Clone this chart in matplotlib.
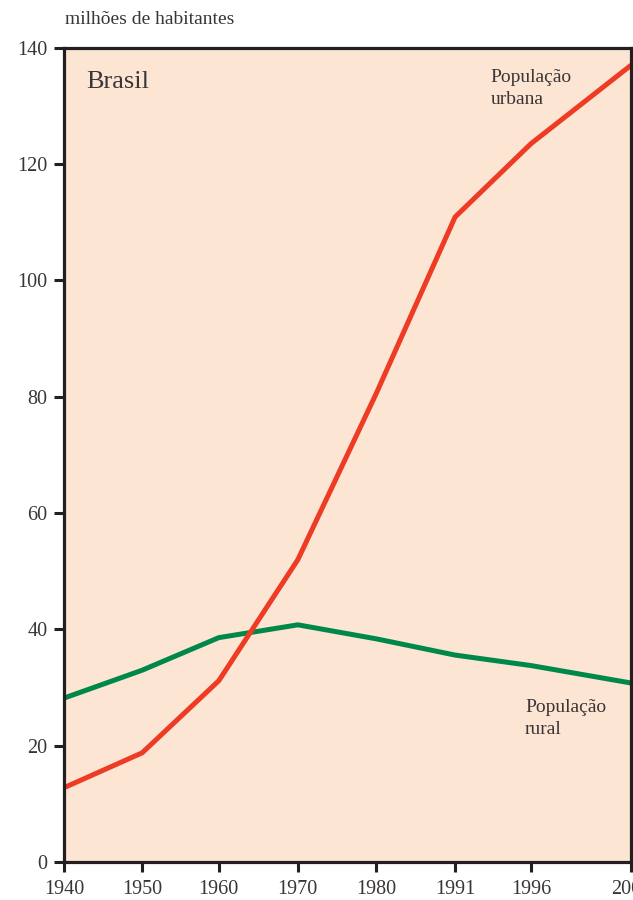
import matplotlib
matplotlib.use("Agg")
import matplotlib.pyplot as plt

# data (milhões de habitantes)
anos = ["1940", "1950", "1960", "1970", "1980", "1991", "1996", "2000"]
urbana = [12.8, 18.8, 31.2, 52.0, 80.5, 110.9, 123.5, 137.0]
rural = [28.2, 33.0, 38.6, 40.8, 38.4, 35.6, 33.8, 30.8]

# the original axis is not evenly spaced at the end (1996 -> 2000 is wider)
xpos = [0, 1, 1.98, 2.99, 3.99, 5.0, 5.97, 7.25]

plt.rcParams['font.family'] = ['Liberation Serif', 'DejaVu Serif']
texto = '#3a3536'
borda = '#231f20'

fig = plt.figure(figsize=(6.33, 9), dpi=100)
ax = fig.add_axes([0.101, 0.042, 0.896, 0.905])
ax.set_facecolor('#fde5d4')

ax.plot(xpos, rural, color='#00884a', linewidth=3.6, solid_capstyle='butt')
ax.plot(xpos, urbana, color='#ee3b24', linewidth=3.6, solid_capstyle='butt')

ax.set_xlim(xpos[0], xpos[-1])
ax.set_ylim(0, 140)
ax.set_xticks(xpos)
ax.set_xticklabels(anos)
ax.set_yticks(range(0, 141, 20))

for s in ax.spines.values():
    s.set_color(borda)
    s.set_linewidth(2.3)

ax.tick_params(axis='both', colors=borda, width=2.2, length=7,
               labelcolor=texto, labelsize=14.5)
ax.tick_params(axis='x', pad=6)
ax.tick_params(axis='y', pad=5)

# titles / annotations
fig.text(0.103, 0.978, 'milhões de habitantes', fontsize=14, color=texto,
         ha='left', va='center')
ax.text(0.04, 0.958, 'Brasil', transform=ax.transAxes, fontsize=19,
        color=texto, ha='left', va='center')
ax.text(0.752, 0.974, 'População\nurbana', transform=ax.transAxes,
        fontsize=14, color=texto, ha='left', va='top', linespacing=1.4)
ax.text(0.813, 0.2, 'População\nrural', transform=ax.transAxes,
        fontsize=14, color=texto, ha='left', va='top', linespacing=1.4)

fig.savefig('out.png', dpi=100)
